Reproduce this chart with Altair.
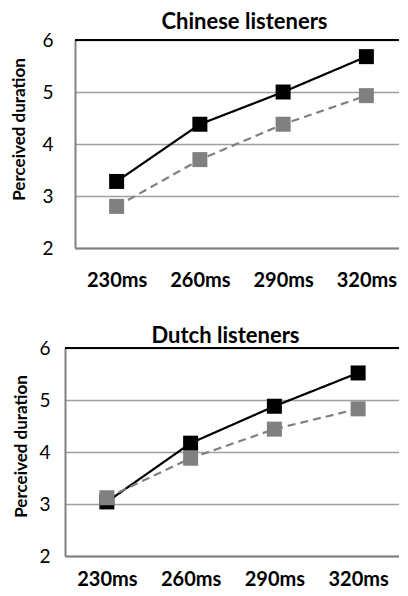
import altair as alt
import pandas as pd

categories = ["230ms", "260ms", "290ms", "320ms"]
series_names = ["Series 1", "Series 2"]
chinese_black = [3.28, 4.38, 5.00, 5.68]
chinese_gray = [2.80, 3.70, 4.38, 4.93]
dutch_black = [3.04, 4.17, 4.88, 5.52]
dutch_gray = [3.12, 3.88, 4.44, 4.83]
y_ticks = [2, 3, 4, 5, 6]

FONT = "Lato"


def panel(title, black_vals, gray_vals, width, height, label_pad, title_pad,
          title_y, x_label_pad, title_offset, title_dx, right_border):
    df = pd.DataFrame({
        "duration": categories * 2,
        "series": [series_names[0]] * 4 + [series_names[1]] * 4,
        "value": black_vals + gray_vals,
    })
    x = alt.X("duration:N", sort=categories,
              scale=alt.Scale(type="point", padding=0.5),
              axis=alt.Axis(title=None, domainColor="#808080", domainWidth=2,
                            ticks=False, tickSize=0, grid=False,
                            labelFont=FONT, labelFontSize=20, labelFontWeight="bold",
                            labelColor="#000000", labelPadding=x_label_pad,
                            labelAngle=0))
    y = alt.Y("value:Q", scale=alt.Scale(domain=[2, 6], nice=False, zero=False),
              axis=alt.Axis(title="Perceived duration", values=y_ticks, format="d",
                            domainColor="#808080", domainWidth=2,
                            ticks=False, tickSize=0,
                            gridColor="#a0a0a0", gridWidth=1.5,
                            labelFont=FONT, labelFontSize=19, labelColor="#000000",
                            labelPadding=label_pad,
                            titleFont=FONT, titleFontSize=17, titleFontWeight="bold",
                            titleColor="#000000", titlePadding=title_pad,
                            titleY=title_y))
    color = alt.Color("series:N", scale=alt.Scale(domain=series_names,
                                                  range=["#000000", "#808080"]),
                      legend=None)
    dash = alt.StrokeDash("series:N", scale=alt.Scale(domain=series_names,
                                                      range=[[1, 0], [8, 5]]),
                          legend=None)
    base = alt.Chart(df)
    lines = base.mark_line(strokeWidth=2.2).encode(x=x, y=y, color=color,
                                                   strokeDash=dash)
    points = base.mark_point(shape="square", filled=True, size=225,
                             opacity=1).encode(x=x, y=y, color=color)
    top_rule = base.mark_rule(color="#000000", strokeWidth=2).encode(
        y=alt.datum(6))
    layers = [lines, points, top_rule]
    if right_border:
        layers.append(base.mark_rule(color="#222222", strokeWidth=1.5).encode(
            x=alt.value(width), y=alt.value(0), y2=alt.value(height)))
    return alt.layer(*layers).properties(
        width=width, height=height,
        title=alt.TitleParams(title, font=FONT, fontSize=22, fontWeight="bold",
                              color="#000000", anchor="middle", frame="group",
                              offset=title_offset, dx=title_dx),
    )


top = panel("Chinese listeners", chinese_black, chinese_gray, 333, 208,
            22, 13, 89, 22, -2.5, 3, False)
bottom = panel("Dutch listeners", dutch_black, dutch_gray, 335, 208,
               15, 8, 98, 13, -9, -7, True)

spacer = alt.Chart(pd.DataFrame({"v": [0]})).mark_point(opacity=0).encode(
    x=alt.value(0), y=alt.value(0)).properties(width=1, height=1)

top_wrapped = alt.hconcat(spacer, top, spacing=9, bounds="flush")

chart = alt.vconcat(top_wrapped, bottom, spacing=35).properties(
    padding={"left": 2, "top": 2, "right": -10, "bottom": 0}
).configure_view(stroke=None)

chart.save("out.html", embed_options={"renderer": "svg", "actions": False})
